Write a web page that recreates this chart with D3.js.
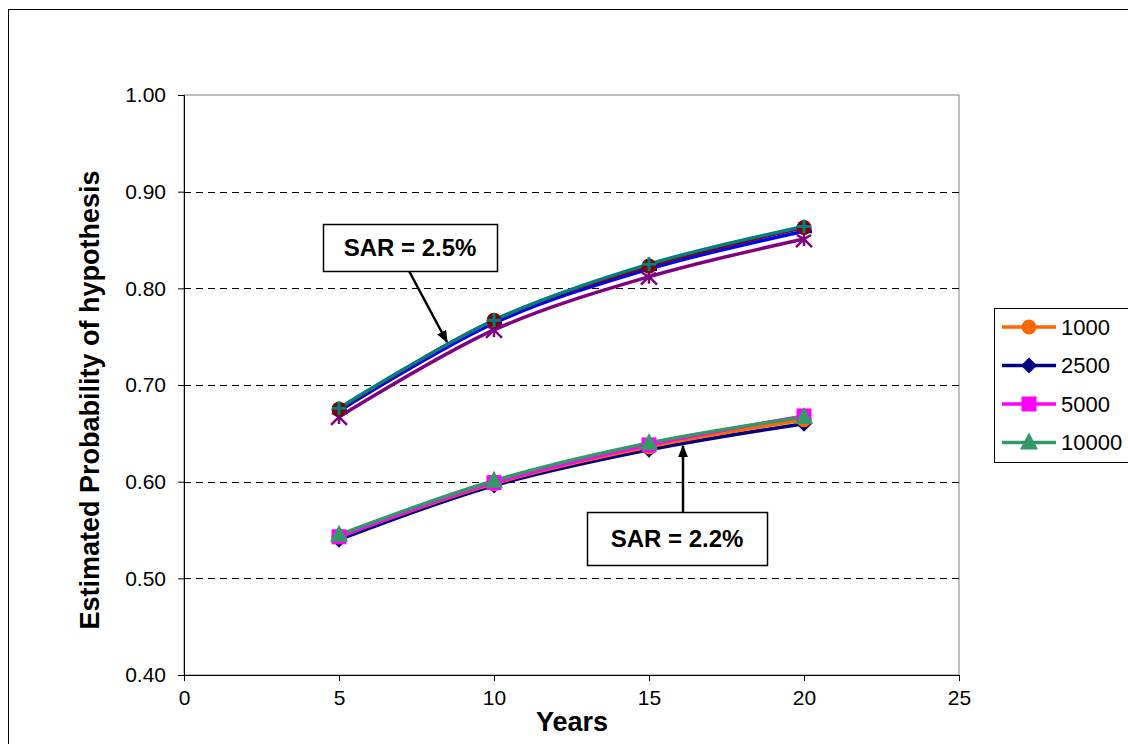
<!DOCTYPE html>
<html><head><meta charset="utf-8">
<script src="https://cdnjs.cloudflare.com/ajax/libs/d3/7.8.5/d3.min.js"></script>
<style>body{margin:0;background:#fff}svg{display:block;font-family:"Liberation Sans",Arial,sans-serif}</style>
</head><body><svg id="c" width="1128" height="744"></svg>
<script>
const years = [5, 10, 15, 20];
const xTicks = [0, 5, 10, 15, 20, 25];
const yTicks = [0.40, 0.50, 0.60, 0.70, 0.80, 0.90, 1.00];
// SAR = 2.2% group (in legend)
const s1000 = [0.543, 0.598, 0.636, 0.664];
const s2500 = [0.540, 0.596, 0.633, 0.660];
const s5000 = [0.543, 0.599, 0.638, 0.668];
const s10000 = [0.545, 0.601, 0.640, 0.667];
// SAR = 2.5% group (not in legend)
const u1 = [0.675, 0.767, 0.823, 0.863];
const u2 = [0.676, 0.767, 0.825, 0.864];
const u3 = [0.673, 0.764, 0.820, 0.859];
const u4 = [0.667, 0.757, 0.812, 0.851];
const legendLabels = ["1000", "2500", "5000", "10000"];

const series = [
  {v: u4, color: "#800080", marker: "star"},
  {v: u3, color: "#0000FF", marker: "dash"},
  {v: u1, color: "#800000", marker: "circle"},
  {v: u2, color: "#008080", marker: "plus"},
  {v: s2500, color: "#000080", marker: "diamond"},
  {v: s1000, color: "#FF6600", marker: "circle"},
  {v: s5000, color: "#FF00FF", marker: "square"},
  {v: s10000, color: "#339966", marker: "triangle"}
];
const legendSeries = [
  {label: legendLabels[0], color: "#FF6600", marker: "circle"},
  {label: legendLabels[1], color: "#000080", marker: "diamond"},
  {label: legendLabels[2], color: "#FF00FF", marker: "square"},
  {label: legendLabels[3], color: "#339966", marker: "triangle"}
];

const svg = d3.select("#c");
const L = 184, R = 959, T = 95, B = 675;
const x = d3.scaleLinear().domain([0, 25]).range([L, R]);
const y = d3.scaleLinear().domain([0.4, 1.0]).range([B, T]);

// outer chart border
svg.append("rect").attr("x", 8.5).attr("y", 9.5).attr("width", 1140).attr("height", 760)
  .attr("fill", "none").attr("stroke", "#000").attr("stroke-width", 1);

// plot border
svg.append("rect").attr("x", L).attr("y", T).attr("width", R - L).attr("height", B - T)
  .attr("fill", "none").attr("stroke", "#808080").attr("stroke-width", 1);

// gridlines
svg.append("g").selectAll("line").data(yTicks.filter(d => d > 0.45 && d < 0.95)).join("line")
  .attr("x1", L).attr("x2", R).attr("y1", d => Math.round(y(d)) + 0.5).attr("y2", d => Math.round(y(d)) + 0.5)
  .attr("stroke", "#000").attr("stroke-dasharray", "7,5").attr("stroke-width", 1);

// axes
const yAxis = d3.axisLeft(y).tickValues(yTicks).tickFormat(d3.format(".2f")).tickSize(6).tickPadding(12);
const gy = svg.append("g").attr("transform", `translate(${L},0)`).call(yAxis);
const xAxis = d3.axisBottom(x).tickValues(xTicks).tickSize(6).tickPadding(6);
const gx = svg.append("g").attr("transform", `translate(0,${B})`).call(xAxis);
[gy, gx].forEach(g => {
  g.select(".domain").attr("stroke", "#000");
  g.selectAll(".tick line").attr("stroke", "#000");
  g.selectAll("text").attr("font-size", 21).attr("fill", "#000").attr("font-family", "Liberation Sans, Arial");
});
gx.selectAll("text").attr("dy", "0.85em");

// axis titles
svg.append("text").attr("x", 572).attr("y", 731).attr("text-anchor", "middle")
  .attr("font-size", 27).attr("font-weight", "bold").text("Years");
svg.append("text").attr("transform", "translate(99,400) rotate(-90)").attr("text-anchor", "middle")
  .attr("font-size", 27).attr("font-weight", "bold").text("Estimated Probability of hypothesis");

// lines
const line = d3.line().x((d, i) => x(years[i])).y(d => y(d)).curve(d3.curveCatmullRom.alpha(0.5));
series.forEach(s => {
  svg.append("path").attr("d", line(s.v)).attr("fill", "none").attr("stroke", s.color).attr("stroke-width", 3.5);
});

function drawMarker(g, type, color, cx, cy) {
  if (type === "circle") g.append("circle").attr("cx", cx).attr("cy", cy).attr("r", 7.5).attr("fill", color);
  else if (type === "square") g.append("rect").attr("x", cx - 7.5).attr("y", cy - 7.5).attr("width", 15).attr("height", 15).attr("fill", color);
  else if (type === "diamond") g.append("path").attr("d", `M${cx},${cy - 8}L${cx + 8},${cy}L${cx},${cy + 8}L${cx - 8},${cy}Z`).attr("fill", color);
  else if (type === "triangle") g.append("path").attr("d", `M${cx},${cy - 10}L${cx + 9},${cy + 7}L${cx - 9},${cy + 7}Z`).attr("fill", color);
  else if (type === "plus") {
    g.append("path").attr("d", `M${cx - 7},${cy}H${cx + 7}M${cx},${cy - 7}V${cy + 7}`).attr("stroke", color).attr("stroke-width", 3);
  } else if (type === "dash") {
    g.append("path").attr("d", `M${cx - 4},${cy}H${cx + 8}`).attr("stroke", color).attr("stroke-width", 4);
  } else if (type === "star") {
    g.append("path").attr("d", `M${cx},${cy - 7}V${cy + 7}M${cx - 8},${cy + 8}L${cx},${cy}L${cx + 8},${cy + 8}M${cx - 7},${cy - 4}L${cx},${cy}L${cx + 7},${cy - 4}`)
      .attr("stroke", color).attr("stroke-width", 2.5).attr("fill", "none");
  }
}
const mg = svg.append("g");
series.forEach(s => {
  s.v.forEach((v, i) => drawMarker(mg, s.marker, s.color, x(years[i]), y(v)));
});

// annotations
svg.append("defs").append("marker").attr("id", "arr").attr("viewBox", "0 0 10 10").attr("refX", 9).attr("refY", 5)
  .attr("markerWidth", 5).attr("markerHeight", 5).attr("orient", "auto")
  .append("path").attr("d", "M0,1L10,5L0,9Z").attr("fill", "#000");
function callout(bx, by, bw, bh, label, ax1, ay1, ax2, ay2) {
  svg.append("line").attr("x1", ax1).attr("y1", ay1).attr("x2", ax2).attr("y2", ay2)
    .attr("stroke", "#000").attr("stroke-width", 2.5).attr("marker-end", "url(#arr)");
  svg.append("rect").attr("x", bx + 0.5).attr("y", by + 0.5).attr("width", bw).attr("height", bh)
    .attr("fill", "#fff").attr("stroke", "#000").attr("stroke-width", 1.5);
  svg.append("text").attr("x", bx + bw / 2).attr("y", by + bh / 2 + 8).attr("text-anchor", "middle")
    .attr("font-size", 24).attr("font-weight", "bold").text(label);
}
callout(323, 224, 174, 47, "SAR = 2.5%", 409, 271, 447, 342);
callout(587, 512, 180, 53, "SAR = 2.2%", 683, 512, 683, 446);

// legend
const lg = svg.append("g");
lg.append("rect").attr("x", 994.5).attr("y", 308.5).attr("width", 200).attr("height", 154)
  .attr("fill", "#fff").attr("stroke", "#000").attr("stroke-width", 1);
legendSeries.forEach((s, i) => {
  const cy = 327 + i * 38.5;
  lg.append("line").attr("x1", 1002).attr("x2", 1056).attr("y1", cy).attr("y2", cy).attr("stroke", s.color).attr("stroke-width", 3.5);
  drawMarker(lg, s.marker, s.color, 1029, cy);
  lg.append("text").attr("x", 1061).attr("y", cy + 7.5).attr("font-size", 22).text(s.label);
});
</script></body></html>
